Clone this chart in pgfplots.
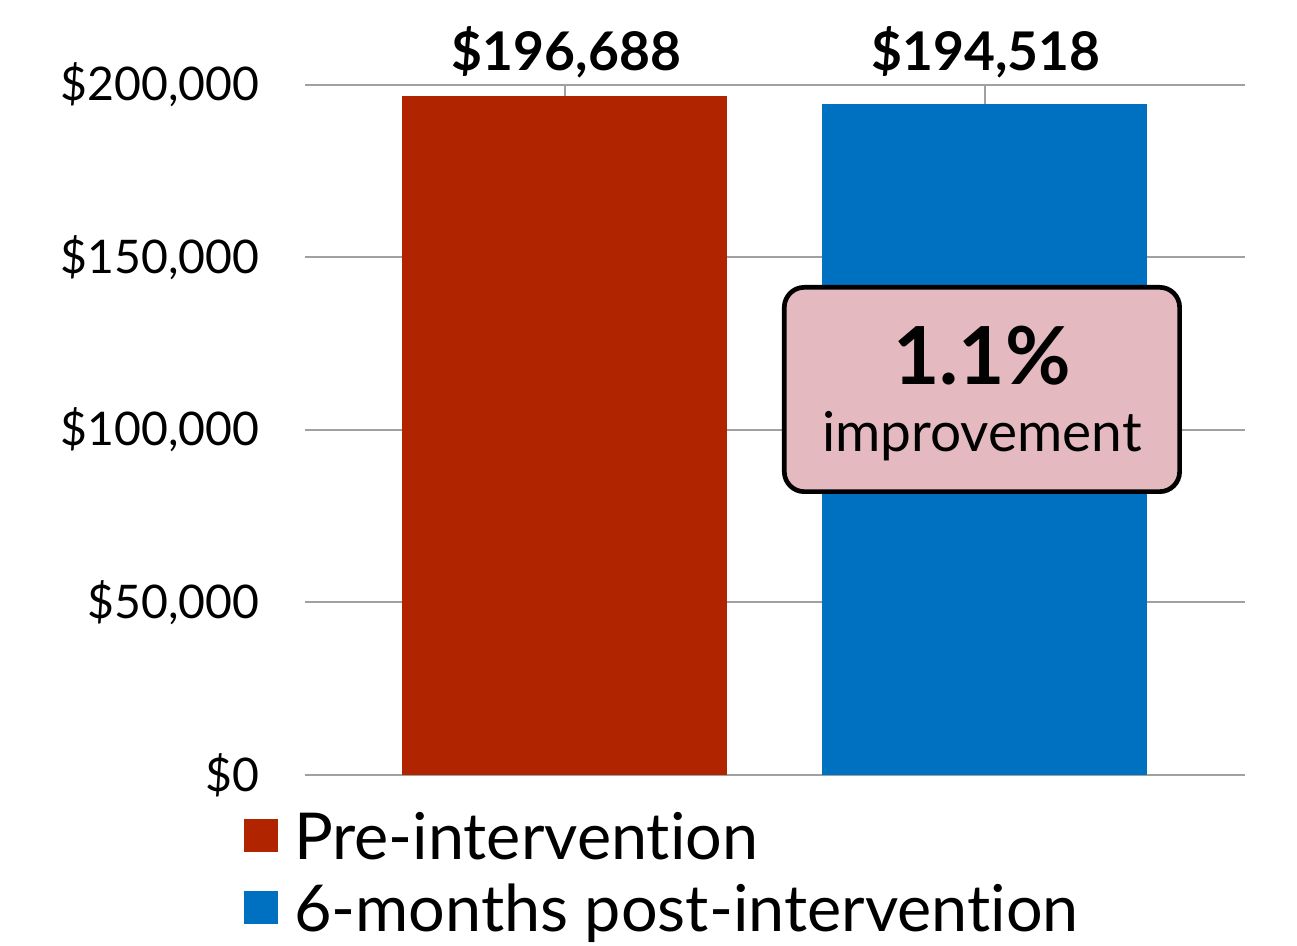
\documentclass[border=0pt]{standalone}
\usepackage{pgfplots}
\pgfplotsset{compat=1.18}
\usepackage{fontspec}
\setmainfont{Lato}[Ligatures=NoCommon]
\definecolor{barred}{RGB}{176,36,0}
\definecolor{barblue}{RGB}{0,112,192}
\definecolor{boxpink}{RGB}{228,185,192}
\definecolor{gridgray}{RGB}{160,160,160}
\begin{document}
\begin{tikzpicture}
\path[use as bounding box] (0,0) rectangle (389.1pt,283.8pt);
\begin{axis}[
  at={(91.5pt,51.3pt)}, anchor=south west,
  scale only axis, width=282pt, height=207pt,
  xmin=305, xmax=1245, ymin=0, ymax=200000,
  axis line style={draw=none},
  major tick length=0pt,
  xtick=\empty,
  scaled y ticks=false,
  ytick={0,50000,100000,150000,200000},
  yticklabels={{\$0},{\$50,000},{\$100,000},{\$150,000},{\$200,000}},
  yticklabel style={anchor=east, inner sep=0pt, xshift=-13.5pt, font=\fontsize{13.9}{16}\selectfont},
  ymajorgrids, grid style={gridgray, line width=0.6pt},
  legend style={at={(axis description cs:-0.0645,-0.0604)}, anchor=north west,
    draw=none, fill=none, inner sep=0pt, outer sep=0pt,
    font=\fontsize{19.4}{22}\selectfont, row sep=4.6pt, column sep=0pt,
    nodes={inner xsep=4.7pt, inner ysep=0pt, text height=13pt, text depth=4pt}},
  legend cell align=left,
  legend image code/.code={\fill[#1] (0pt,-2.25pt) rectangle (10.2pt,7.65pt);},
  clip=false,
]
\addplot[gridgray, line width=0.4pt, forget plot] coordinates {(565,0) (565,200000)};
\addplot[gridgray, line width=0.4pt, forget plot] coordinates {(985,0) (985,200000)};
\addplot[ybar, bar shift=0pt, bar width=325, fill=barred, draw=none] coordinates {(565,196688)};
\addlegendentry{Pre-intervention}
\addplot[ybar, bar shift=0pt, bar width=325, fill=barblue, draw=none] coordinates {(985,194518)};
\addlegendentry{6-months post-intervention}
\node[anchor=base, font=\fontsize{16}{16}\selectfont\bfseries] at (axis cs:566.5,204058) {\$196,688};
\node[anchor=base, font=\fontsize{16}{16}\selectfont\bfseries] at (axis cs:986,204058) {\$194,518};
\node[draw=black, line width=1.4pt, rounded corners=6pt, fill=boxpink, minimum width=118.6pt, minimum height=61.3pt, inner sep=0pt] (box) at (axis cs:982,111739) {};
\node[anchor=base, inner sep=0pt, font=\fontsize{24}{24}\selectfont\bfseries] at ([yshift=1.35pt]box.center) {1.1\%};
\node[anchor=base, inner sep=0pt, font=\fontsize{16.5}{18}\selectfont] at ([yshift=-18.75pt]box.center) {improvement};
\end{axis}
\end{tikzpicture}
\end{document}
